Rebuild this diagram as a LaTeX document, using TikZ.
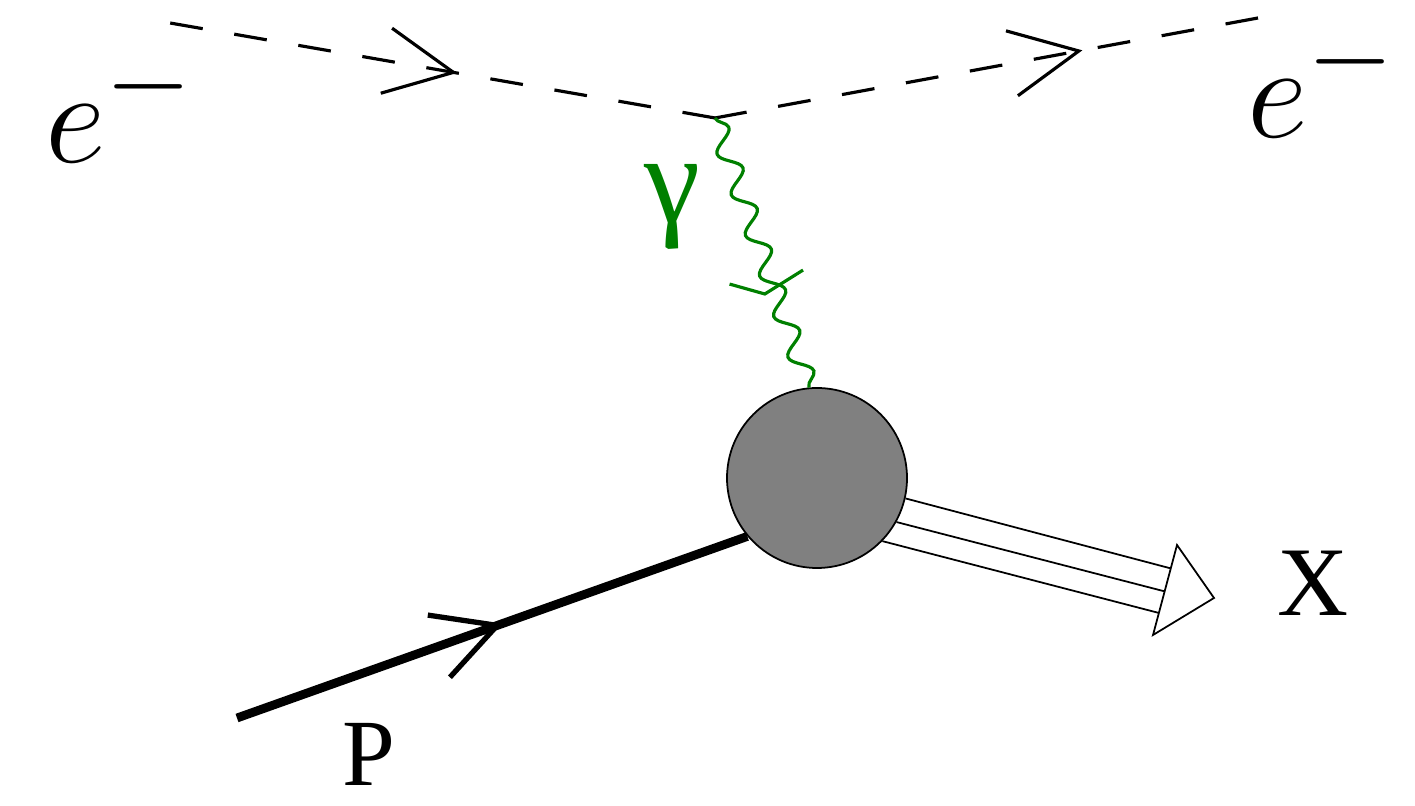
\documentclass[tikz,border=0pt]{standalone}
\usepackage{fontspec}
\setmainfont{Liberation Serif}
\usepackage{xcolor}
\usepackage{tikz}
\usetikzlibrary{decorations.pathmorphing,decorations.markings}
\usepackage{amsmath}

\begin{document}
\begin{tikzpicture}[
        electron/.style={
            draw,
            line width=0.9pt,
            dash pattern=on 0.33cm off 0.32cm
        },
        photon/.style={
            draw=green!50!black,
            line width=0.9pt,
            decorate,
            decoration={snake, segment length=0.43cm, amplitude=0.1cm}
        },
        proton/.style={
            draw,
            line width=2.5pt
        },
        xline/.style={
            draw,
            line width=0.5pt
        },
        revarrow/.style={
            postaction={decorate, decoration={markings,
                mark=at position #1 with {\draw[solid, line width=0.9pt] (0.68,0.33) -- (0,0) -- (0.68,-0.33);}}}
        },
        midarrow/.style={
            postaction={decorate, decoration={markings,
                mark=at position #1 with {\draw[solid, line width=1.5pt] (-0.62,0.33) -- (0,0) -- (-0.62,-0.33);}}}
        },
        gammaarrow/.style={
            postaction={decorate, decoration={markings,
                mark=at position #1 with {\draw[green!50!black, line width=0.9pt] (-0.21,-0.41) -- (0,-0.11) -- (-0.10,0.33);}}}
        },
        lbl/.style={
            inner sep=0pt
        },
        elbl/.style={
            inner sep=0pt,
            anchor=base west,
            font=\fontsize{24.88}{30}\selectfont,
            scale=1.52
        }
    ]
        \useasboundingbox (0,0) rectangle (14.15,8.06);

        % Vertices and free ends
        \coordinate (ein) at (1.70,7.83);
        \coordinate (vtx) at (7.15,6.88);
        \coordinate (eout) at (12.58,7.88);
        \coordinate (pin) at (2.37,0.88);

        % Hadronic blob
        \node[circle, draw, line width=0.5pt, fill=gray, minimum size=1.8cm, inner sep=0pt] (blob) at (8.17,3.28) {};

        % Electron lines
        \draw[electron, revarrow=0.48] (vtx) -- (ein);
        \draw[electron, revarrow=0.33] (eout) -- (vtx);

        % Photon
        \draw[photon] (vtx) -- (blob.95);
        \path[gammaarrow=0.64] (vtx) -- (blob.95);

        % Proton
        \draw[proton, midarrow=0.51] (pin) -- (blob.220);

        % Outgoing hadrons X
        \coordinate (xa) at (11.73,2.37);
        \coordinate (xb) at (11.67,2.14);
        \coordinate (xc) at (11.59,1.93);
        \draw[xline] (blob.-13) -- (xa);
        \draw[xline] (blob.-29) -- (xb);
        \draw[xline] (blob.-44) -- (xc);
        \coordinate (xl) at (11.77,2.61);
        \coordinate (xtip) at (12.14,2.08);
        \coordinate (xr) at (11.53,1.71);
        \draw[xline, fill=white] (xl) -- (xtip) -- (xr) -- cycle;

        % Labels
        \node[elbl] (ein-lbl) at (0.44,6.43) {$e^-$};
        \node[elbl] (eout-lbl) at (12.46,6.68) {$e^-$};
        \node[lbl, text=green!50!black, font=\fontsize{36}{42}\selectfont] (gamma-lbl) at (6.72,5.99) {γ};
        \node[lbl, font=\fontsize{28}{34}\selectfont] (x-lbl) at (13.13,2.23) {X};
        \node[lbl, font=\fontsize{27}{32}\selectfont] (p-lbl) at (3.69,0.52) {P};
    \end{tikzpicture}
\end{document}
